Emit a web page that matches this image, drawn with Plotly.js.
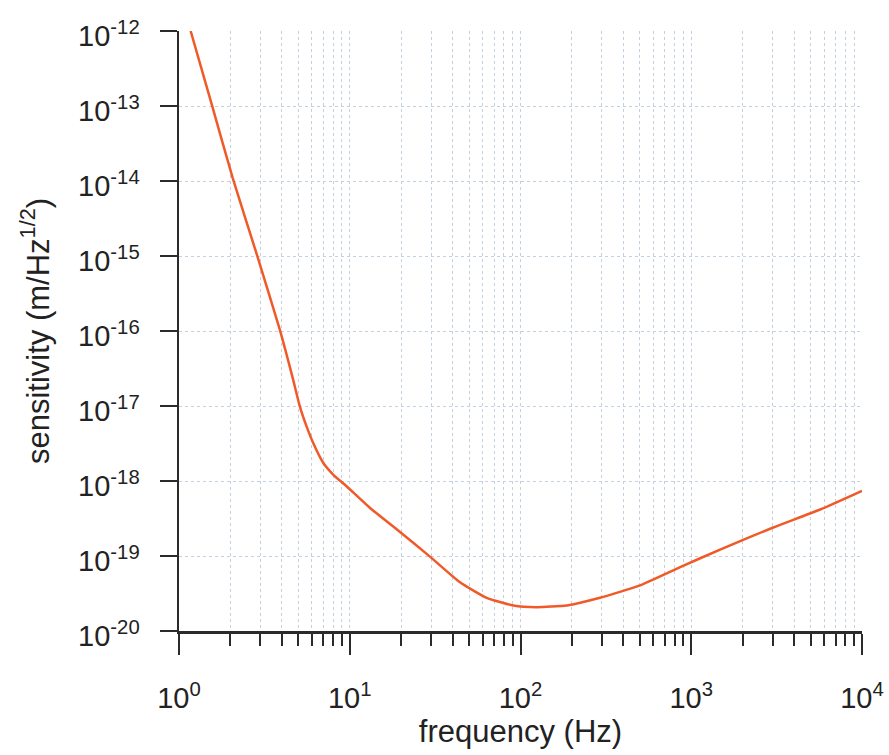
<!DOCTYPE html>
<html>
<head>
<meta charset="utf-8">
<script src="https://cdn.plot.ly/plotly-3.0.1.min.js"></script>
<style>html,body{margin:0;padding:0;background:#fff}#chart{width:889px;height:755px}</style>
</head>
<body>
<div id="chart"></div>
<script>
// frequency (Hz)
const frequency = [1.17, 1.555, 2.06, 2.855, 3.89, 4.66, 5.10, 5.58, 6.10, 6.99, 7.99, 9.58, 13.1, 18.9, 29.5, 44, 63.3, 90.8, 124, 186.5, 292, 501, 861, 1476, 3020, 5690, 10000];
// sensitivity (m/Hz^1/2)
const sensitivity = [1.0e-12, 1.05e-13, 1.11e-14, 1.05e-15, 1.05e-16, 2.25e-17, 9.9e-18, 5.38e-18, 3.23e-18, 1.75e-18, 1.22e-18, 8.5e-19, 4.4e-19, 2.26e-19, 9.8e-20, 4.5e-20, 2.77e-20, 2.19e-20, 2.08e-20, 2.19e-20, 2.77e-20, 4.05e-20, 7.1e-20, 1.22e-19, 2.4e-19, 4.17e-19, 7.4e-19];

const xTickVals = [1, 10, 100, 1000, 10000];
const xTickText = ['10<sup>0</sup>', '10<sup>1</sup>', '10<sup>2</sup>', '10<sup>3</sup>', '10<sup>4</sup>'];
const yTickVals = [1e-20, 1e-19, 1e-18, 1e-17, 1e-16, 1e-15, 1e-14, 1e-13, 1e-12];
const yTickText = ['10<sup>-20</sup>', '10<sup>-19</sup>', '10<sup>-18</sup>', '10<sup>-17</sup>', '10<sup>-16</sup>', '10<sup>-15</sup>', '10<sup>-14</sup>', '10<sup>-13</sup>', '10<sup>-12</sup>'];
const minorMultipliers = [2, 3, 4, 5, 6, 7, 8, 9];

const xMinor = [];
for (const d of [1, 10, 100, 1000]) for (const m of minorMultipliers) xMinor.push(d * m);

const axisColor = '#2b2b2b';
const gridColor = '#c3d0e0';
const font = 'Liberation Sans, Arial, Helvetica, sans-serif';

const trace = {
  x: frequency, y: sensitivity, type: 'scatter', mode: 'lines',
  line: {color: '#f05a28', width: 2.5, shape: 'spline', smoothing: 0.5},
  hoverinfo: 'skip', cliponaxis: true
};

const layout = {
  width: 889, height: 755,
  margin: {l: 179, r: 27, t: 31, b: 124},
  paper_bgcolor: '#ffffff', plot_bgcolor: '#ffffff',
  showlegend: false,
  font: {family: font, color: '#222'},
  xaxis: {
    type: 'log', range: [0, 4],
    tickmode: 'array', tickvals: xTickVals, ticktext: xTickText,
    ticks: 'outside', ticklen: 21, tickwidth: 2, tickcolor: axisColor,
    showline: true, linecolor: axisColor, linewidth: 2.5,
    showgrid: true, gridcolor: gridColor, griddash: 'dot', gridwidth: 1,
    zeroline: false,
    tickfont: {family: font, size: 29, color: '#222'},
    ticklabelstandoff: 19,
    minor: {tickmode: 'array', tickvals: xMinor, ticks: 'outside', ticklen: 12, tickwidth: 2, tickcolor: axisColor,
            showgrid: true, gridcolor: gridColor, griddash: 'dot', gridwidth: 1},
    title: {text: 'frequency (Hz)', font: {family: font, size: 31, color: '#222'}, standoff: 4}
  },
  yaxis: {
    type: 'log', range: [-20, -12],
    tickmode: 'array', tickvals: yTickVals, ticktext: yTickText,
    ticks: 'outside', ticklen: 17, tickwidth: 2, tickcolor: axisColor,
    showline: true, linecolor: axisColor, linewidth: 2.5,
    showgrid: true, gridcolor: gridColor, griddash: 'dot', gridwidth: 1,
    zeroline: false,
    tickfont: {family: font, size: 29, color: '#222'},
    ticklabelstandoff: 14,
    ticklabelshift: 5,
    title: {text: 'sensitivity (m/Hz<sup>1/2</sup>)', font: {family: font, size: 31, color: '#222'}, standoff: 20}
  }
};

Plotly.newPlot('chart', [trace], layout, {displayModeBar: false, staticPlot: true});
</script>
</body>
</html>
